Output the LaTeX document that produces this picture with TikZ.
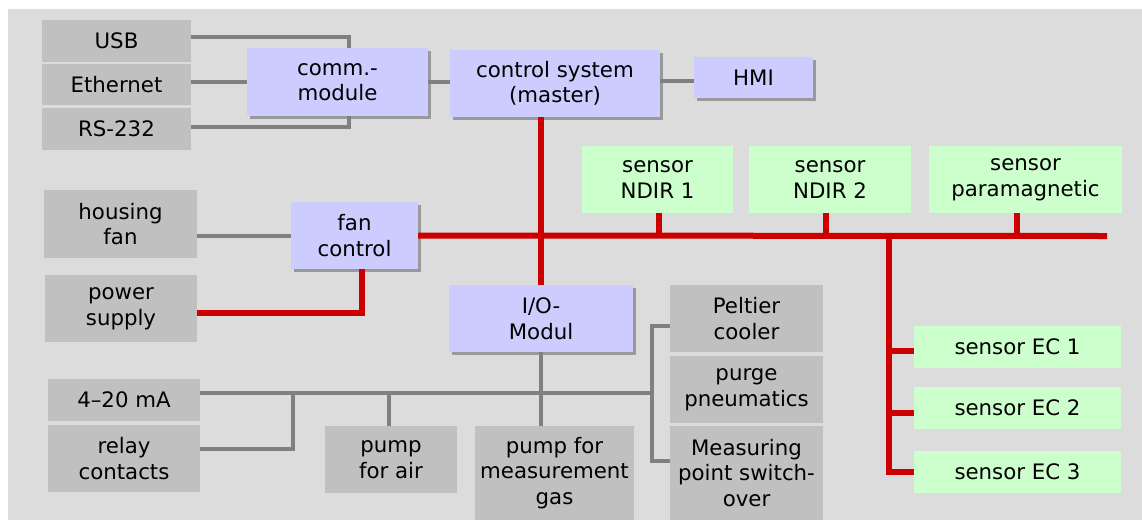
\documentclass[tikz,border=0pt]{standalone}
\usepackage{fontspec}
\setmainfont{DejaVu Sans}
\usetikzlibrary{shadows}
\definecolor{bgc}{HTML}{DCDCDC}
\definecolor{boxg}{HTML}{C0C0C0}
\definecolor{boxl}{HTML}{CCCCFF}
\definecolor{boxs}{HTML}{CCFFCC}
\definecolor{lineg}{HTML}{808080}
\definecolor{liner}{HTML}{CC0000}
\definecolor{shad}{HTML}{999999}
\tikzset{
  base/.style={inner sep=0pt, align=center, font=\fontsize{21.3}{25.5}\selectfont},
  gbox/.style={base, fill=boxg},
  lbox/.style={base, fill=boxl, drop shadow={shadow xshift=3pt, shadow yshift=-3pt, fill=shad, opacity=1}},
  sbox/.style={base, fill=boxs},
  lower/.style={execute at begin node={\vspace*{#1}}},
  gline/.style={draw=lineg, line width=4pt},
  rline/.style={draw=liner, line width=6pt},
}
\newcommand{\bx}[7]{\node[#1, minimum width=#5pt, minimum height=#6pt] (#2) at (#3,#4) {#7};}
\begin{document}
\begin{tikzpicture}[x=1pt,y=-1pt]
\useasboundingbox (0,0) rectangle (1142,520);
\fill[bgc] (8,9) rectangle (1142,520);
% left gray boxes
\bx{gbox}{usb}{116.5}{41}{149}{42}{USB}
\bx{gbox}{eth}{116.5}{84.5}{149}{41}{Ethernet}
\bx{gbox}{rs}{116.5}{129}{149}{42}{RS-232}
\bx{gbox}{housing}{120.5}{224}{153}{68}{housing\\fan}
\bx{gbox}{power}{121}{308.5}{152}{67}{power\\supply}
\bx{gbox}{ma}{124}{400}{152}{42}{4–20 mA}
\bx{gbox}{relay}{124}{458.5}{152}{67}{relay\\contacts}
\bx{gbox}{pumpair}{391}{459.5}{132}{67}{pump\\for air}
\bx{gbox}{pumpgas}{554.5}{473}{159}{94}{pump for\\measurement\\gas}
\bx{gbox,lower=2pt}{peltier}{746.5}{318.5}{153}{67}{Peltier\\cooler}
\bx{gbox}{purge}{746.5}{389.5}{153}{67}{purge\\pneumatics}
\bx{gbox}{meas}{746.5}{473}{153}{94}{Measuring\\point switch-\\over}
% lavender boxes
\bx{lbox,lower=5pt}{comm}{337.5}{82}{181}{68}{comm.-\\module}
\bx{lbox,lower=4pt}{ctrl}{555}{83.5}{210}{67}{control system\\(master)}
\bx{lbox}{hmi}{753.5}{77.5}{119}{41}{HMI}
\bx{lbox,lower=2pt}{fanctl}{354.5}{235.5}{127}{67}{fan\\control}
\bx{lbox,lower=2pt}{io}{541}{318.5}{184}{67}{I/O-\\Modul}
% sensors
\bx{sbox,lower=8pt}{ndir1}{657.5}{179.5}{151}{67}{sensor\\NDIR 1}
\bx{sbox,lower=8pt}{ndir2}{830}{179.5}{162}{67}{sensor\\NDIR 2}
\bx{sbox,lower=10pt}{para}{1025.5}{179.5}{193}{67}{sensor\\paramagnetic}
\bx{sbox}{ec1}{1017.5}{347}{207}{42}{sensor EC 1}
\bx{sbox}{ec2}{1017.5}{408}{207}{42}{sensor EC 2}
\bx{sbox}{ec3}{1017.5}{472}{207}{42}{sensor EC 3}
% coordinates
\coordinate (busend) at (1107,236);
\coordinate (ecv) at (889,236);
\coordinate (jr) at (652,393);
\coordinate (jl) at (293,393);
% gray connectors (top)
\draw[gline] ([yshift=4pt]usb.east) -| ([xshift=11.5pt]comm.north);
\draw[gline] (eth.east|-comm.west) -- (comm.west);
\draw[gline] ([yshift=2pt]rs.east) -| ([xshift=11.5pt]comm.south);
\draw[gline] (comm.east) -- (comm.east-|ctrl.west);
\draw[gline] ([yshift=2.5pt]ctrl.east) -- ([yshift=2.5pt]ctrl.east-|hmi.west);
\draw[gline] (housing.east|-fanctl.west) -- (fanctl.west);
% gray connectors (bottom)
\draw[gline] ([yshift=7pt]ma.east) -- (jr);
\draw[gline] ([yshift=9.5pt]relay.east) -| (jl);
\draw[gline] ([xshift=-2pt]pumpair.north) -- ([xshift=-2pt]pumpair.north|-jr);
\draw[gline] (io.south) -- (io.south|-pumpgas.north);
\draw[gline] ([yshift=-7.5pt]peltier.west) -| (jr) |- ([yshift=12pt]meas.west);
% red connectors
\draw[rline] (ctrl.south-|io.north) -- (io.north);
\draw[rline] (fanctl.east) -- (busend);
\draw[rline] ([xshift=1.5pt]ndir1.south) -- ([xshift=1.5pt]ndir1.south|-busend);
\draw[rline] ([xshift=-4pt]ndir2.south) -- ([xshift=-4pt]ndir2.south|-busend);
\draw[rline] ([xshift=-8.5pt]para.south) -- ([xshift=-8.5pt]para.south|-busend);
\draw[rline] ([yshift=3pt]ecv) |- (ec3.west);
\draw[rline] ([yshift=-4pt]ec1.west-|ecv) -- ([yshift=-4pt]ec1.west);
\draw[rline] ([yshift=-5pt]ec2.west-|ecv) -- ([yshift=-5pt]ec2.west);
\draw[rline] ([yshift=-4.5pt]power.east) -| ([xshift=7.5pt]fanctl.south);
\end{tikzpicture}
\end{document}
